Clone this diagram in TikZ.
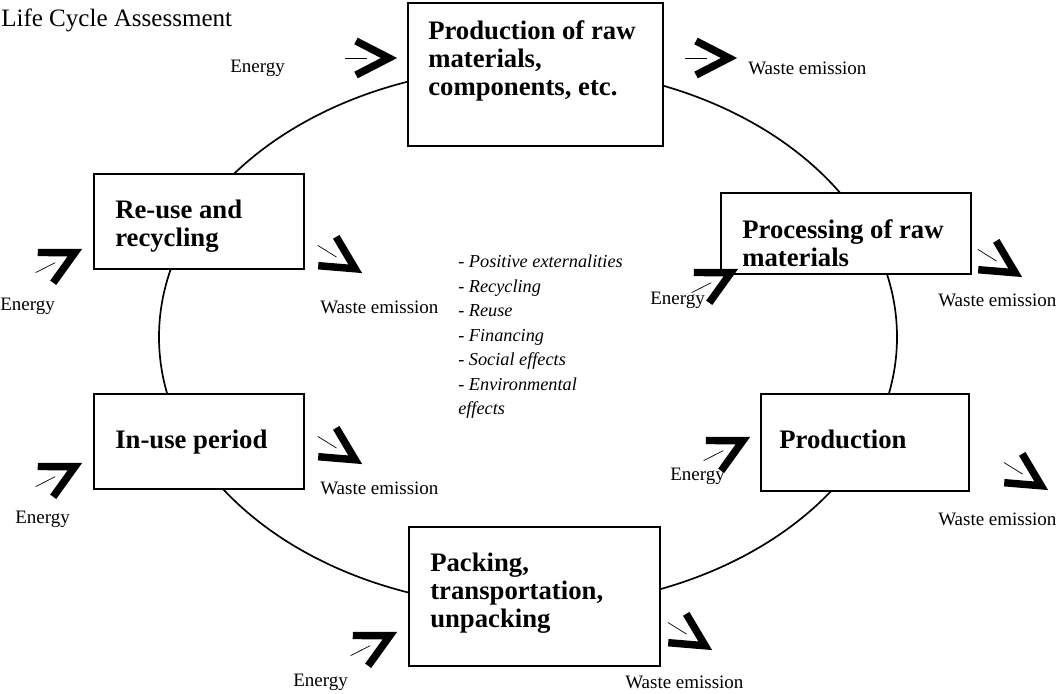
\documentclass[tikz,border=0pt]{standalone}
\usepackage{fontspec}
\setmainfont{Liberation Serif}
\usetikzlibrary{calc}

\begin{document}
\begin{tikzpicture}[x=0.025cm, y=-0.025cm,
		box/.style={draw, line width=1.4pt, fill=white, inner sep=0pt, anchor=north west},
		boxtext/.style={anchor=north west, inner sep=0pt, align=left, font=\fontsize{19}{19.9}\selectfont\bfseries},
		note/.style={anchor=west, inner sep=0pt, font=\fontsize{13.5}{15}\selectfont},
		shaft/.style={line width=0.5pt},
		chev/.style={line width=5.3pt},
		flow/.pic={\draw[shaft] (-52,0) -- (-30,0);
			\draw[chev] (-41,17) -- (-8,0) -- (-41,-17);}]
		\useasboundingbox (0,0) rectangle (1056,693);
		
		% Title
		\node (title) [anchor=base west, inner sep=0pt, font=\fontsize{17.8}{20}\selectfont] at (1,26) {Life Cycle Assessment};
		
		% The cycle
		\draw[line width=1.2pt] (528,337) ellipse [x radius=369, y radius=270];
		
		% Define the boxes
		\node (raw) [box, minimum width=6.375cm, minimum height=3.575cm] at (407,2) {};
		\node (proc) [box, minimum width=6.25cm, minimum height=2.025cm] at (720,192) {};
		\node (prod) [box, minimum width=5.2cm, minimum height=2.425cm] at (760,393) {};
		\node (pack) [box, minimum width=6.275cm, minimum height=3.475cm] at (408,526) {};
		\node (inuse) [box, minimum width=5.25cm, minimum height=2.375cm] at (93,393) {};
		\node (reuse) [box, minimum width=5.25cm, minimum height=2.375cm] at (93,173) {};
		
		% Box texts
		\node (rawtxt) [boxtext] at ($(raw.north west)+(21,18)$) {Production of raw\\materials,\\components, etc.};
		\node (proctxt) [boxtext] at ($(proc.north west)+(22,27)$) {Processing of raw\\materials};
		\node (prodtxt) [boxtext] at ($(prod.north west)+(19,37)$) {Production};
		\node (packtxt) [boxtext] at ($(pack.north west)+(22,27)$) {Packing,\\transportation,\\unpacking};
		\node (inusetxt) [boxtext] at ($(inuse.north west)+(22,37)$) {In-use period};
		\node (reusetxt) [boxtext] at ($(reuse.north west)+(22,27)$) {Re-use and\\recycling};
		
		% Effects in the middle
		\node (effects) [anchor=north west, inner sep=0pt, align=left, font=\fontsize{13}{17.4}\selectfont\itshape] at (458,255) {- Positive externalities\\- Recycling\\- Reuse\\- Financing\\- Social effects\\- Environmental\\effects};
		
		% Energy in, waste out
		\pic at (397,58) {flow};
		\pic at (737,58) {flow};
		\pic[rotate=27] at (82,249) {flow};
		\pic[rotate=-32] at (362,273) {flow};
		\pic[rotate=27] at (738,269) {flow};
		\pic[rotate=-32] at (1022,277) {flow};
		\pic[rotate=27] at (82,463) {flow};
		\pic[rotate=-32] at (362,464) {flow};
		\pic[rotate=27] at (750,437) {flow};
		\pic[rotate=-32] at (1048,490) {flow};
		\pic[rotate=27] at (397,632) {flow};
		\pic[rotate=-32] at (712,650) {flow};
		
		\node (e1) [note] at (230,68) {Energy};
		\node (w1) [note] at (748,68) {Waste emission};
		\node (e2) [note] at (0,306) {Energy};
		\node (w2) [note] at (320,307) {Waste emission};
		\node (e3) [note] at (650,300) {Energy};
		\node (w3) [note] at (938,300) {Waste emission};
		\node (e4) [note] at (15,519) {Energy};
		\node (w4) [note] at (320,488) {Waste emission};
		\node (e5) [note] at (670,476) {Energy};
		\node (w5) [note] at (938,519) {Waste emission};
		\node (e6) [note] at (293,682) {Energy};
		\node (w6) [note] at (625,682) {Waste emission};
	\end{tikzpicture}
\end{document}
